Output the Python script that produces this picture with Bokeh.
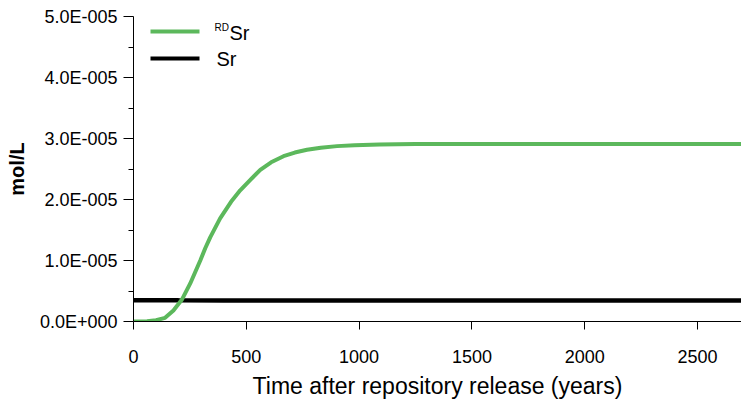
from bokeh.plotting import figure
from bokeh.models import FixedTicker, Range1d, Label, BoxAnnotation, Title
from bokeh.embed import file_html
from bokeh.resources import INLINE

# Data
t_rd = [0, 60, 100, 140, 177, 214, 251, 296, 318, 340, 384, 436, 473, 520, 562, 610,
        665, 715, 769, 830, 902, 980, 1090, 1250, 1500, 2000, 2700]
rd_sr = [0.0, 0.05e-6, 0.2e-6, 0.6e-6, 1.8e-6, 3.55e-6, 6.2e-6, 10.0e-6, 12.0e-6,
         13.8e-6, 16.9e-6, 19.8e-6, 21.5e-6, 23.3e-6, 24.85e-6, 26.1e-6, 27.1e-6,
         27.7e-6, 28.15e-6, 28.5e-6, 28.75e-6, 28.9e-6, 29.02e-6, 29.08e-6, 29.1e-6,
         29.1e-6, 29.1e-6]
t_sr = [0, 200, 400, 2700]
sr = [3.5e-6, 3.47e-6, 3.45e-6, 3.45e-6]

x_ticks = [0, 500, 1000, 1500, 2000, 2500]
y_ticks = [0.0, 1e-5, 2e-5, 3e-5, 4e-5, 5e-5]
y_tick_labels = ["0.0E+000", "1.0E-005", "2.0E-005", "3.0E-005", "4.0E-005", "5.0E-005"]
x_title = "Time after repository release (years)"
y_title = "mol/L"

FONT = "Liberation Sans"
GREEN = "#5cb85c"

p = figure(width=741, height=407, output_backend="svg", toolbar_location=None,
           x_range=Range1d(0, 2695), y_range=Range1d(0, 5e-5),
           min_border_left=133, min_border_right=0, min_border_top=16, min_border_bottom=86)
p.outline_line_color = None
p.xgrid.grid_line_color = None
p.ygrid.grid_line_color = None

p.line(t_sr, sr, line_color="black", line_width=4.5)
p.line(t_rd, rd_sr, line_color=GREEN, line_width=4, line_join="round")

# x axis
xa = p.xaxis[0]
xa.ticker = FixedTicker(ticks=x_ticks)
xa.major_label_text_font = FONT
xa.major_label_text_font_size = "18px"
xa.major_label_text_color = "black"
xa.major_label_standoff = 20
xa.major_tick_out = 8
xa.major_tick_in = 0
xa.minor_tick_line_color = None
xa.axis_line_color = "black"
xa.major_tick_line_color = "black"

# x axis title as a below-panel title
p.add_layout(Title(text=x_title, align="center", offset=3, standoff=11,
                   text_font=FONT, text_font_size="23px", text_font_style="normal",
                   text_color="black"), "below")

# y axis
ya = p.yaxis[0]
ya.ticker = FixedTicker(ticks=y_ticks, minor_ticks=[0.5e-5, 1.5e-5, 2.5e-5, 3.5e-5, 4.5e-5])
ya.major_label_overrides = {v: s for v, s in zip(y_ticks, y_tick_labels)}
ya.axis_label = y_title
ya.axis_label_text_font = FONT
ya.axis_label_text_font_size = "20px"
ya.axis_label_text_font_style = "bold"
ya.axis_label_text_color = "black"
ya.axis_label_standoff = 9
ya.major_label_text_font = FONT
ya.major_label_text_font_size = "18px"
ya.major_label_text_color = "black"
ya.major_label_standoff = 6
ya.major_tick_out = 10
ya.major_tick_in = 0
ya.minor_tick_out = 5
ya.minor_tick_in = 0
ya.axis_line_color = "black"
ya.major_tick_line_color = "black"
ya.minor_tick_line_color = "black"

# manual legend (screen units relative to frame)
p.add_layout(BoxAnnotation(left=17, right=66, bottom=288, top=292,
                           left_units="screen", right_units="screen",
                           bottom_units="screen", top_units="screen",
                           fill_color=GREEN, fill_alpha=1, line_color=None))
p.add_layout(BoxAnnotation(left=17, right=66, bottom=261, top=265,
                           left_units="screen", right_units="screen",
                           bottom_units="screen", top_units="screen",
                           fill_color="black", fill_alpha=1, line_color=None))
p.add_layout(Label(x=81, y=294, x_units="screen", y_units="screen", text="RD",
                   text_font=FONT, text_font_size="10px", text_color="black",
                   text_baseline="middle"))
p.add_layout(Label(x=96, y=289, x_units="screen", y_units="screen", text="Sr",
                   text_font=FONT, text_font_size="20px", text_color="black",
                   text_baseline="middle"))
p.add_layout(Label(x=83, y=263, x_units="screen", y_units="screen", text="Sr",
                   text_font=FONT, text_font_size="20px", text_color="black",
                   text_baseline="middle"))

open("out.html", "w").write(file_html(p, INLINE))
